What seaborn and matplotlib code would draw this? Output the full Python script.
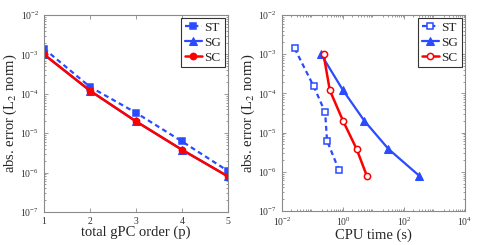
import numpy as np
import pandas as pd
import matplotlib
matplotlib.use("Agg")
import matplotlib.pyplot as plt
import seaborn as sns

# values
order = [1, 2, 3, 4, 5]
err_st = [1.4e-3, 1.5e-4, 3.3e-5, 6.2e-6, 1.1e-6]
err_sg = [1.0e-3, 1.2e-4, 2.0e-5, 3.8e-6, 8.0e-7]
err_sc = [1.0e-3, 1.2e-4, 2.0e-5, 3.8e-6, 8.0e-7]
cpu_st = [0.026, 0.11, 0.26, 0.30, 0.74]
cpu_sg = [0.19, 1.0, 5.0, 31.0, 310.0]
cpu_sc = [0.23, 0.37, 1.0, 2.8, 6.0]

blue = '#2a4bff'
red = '#ff0000'

sns.set_style("ticks")
plt.rcParams['font.family'] = ['Liberation Serif', 'DejaVu Serif']
plt.rcParams['mathtext.fontset'] = 'stix'
plt.rcParams['xtick.direction'] = 'in'
plt.rcParams['ytick.direction'] = 'in'
plt.rcParams['xtick.top'] = True
plt.rcParams['ytick.right'] = True

fig = plt.figure(figsize=(4.91, 2.45), dpi=100)
ax1 = fig.add_axes([0.0896, 0.1347, 0.3747, 0.804])
ax2 = fig.add_axes([0.5743, 0.139, 0.3727, 0.80])


def draw(ax, xs, hollow):
    x_st, x_sg, x_sc = xs
    sns.lineplot(x=x_st, y=err_st, ax=ax, sort=False, color=blue, lw=1.6,
                 linestyle=(0, (2.2, 1.6)), marker='s', markersize=4.5,
                 markeredgecolor=blue, mew=1.1,
                 markerfacecolor='white' if hollow else blue, label='ST')
    sns.lineplot(x=x_sg, y=err_sg, ax=ax, sort=False, color=blue, lw=1.6,
                 marker='^', markersize=5.5, markeredgecolor=blue,
                 markerfacecolor=blue, label='SG')
    sns.lineplot(x=x_sc, y=err_sc, ax=ax, sort=False, color=red, lw=1.8,
                 marker='o', markersize=4.5, markeredgecolor=red, mew=1.1,
                 markerfacecolor='white' if hollow else red, label='SC')
    ax.set_yscale('log')
    ax.set_ylim(1e-7, 1e-2)
    for s in ax.spines.values():
        s.set_color('#8a8a8a')
        s.set_linewidth(0.8)
    ax.tick_params(which='both', colors='#8a8a8a', labelcolor='#333333',
                   labelsize=7, width=0.6)
    ax.tick_params(which='major', length=3)
    ax.tick_params(which='minor', length=1.5)
    ax.set_ylabel('abs. error (L$_2$ norm)', fontsize=10.5, labelpad=1)
    leg = ax.legend(loc='upper right', fontsize=9.5, frameon=True,
                    fancybox=False, edgecolor='black', borderpad=0.25,
                    handlelength=1.3, handletextpad=0.2, labelspacing=0.2,
                    borderaxespad=0.25)
    leg.get_frame().set_linewidth(0.8)


draw(ax1, (order, order, order), False)
ax1.set_xlim(1, 5)
ax1.set_xticks(order)
ax1.set_xlabel('total gPC order (p)', fontsize=10.5, labelpad=0)

draw(ax2, (cpu_st, cpu_sg, cpu_sc), True)
ax2.set_xscale('log')
ax2.set_xlim(1e-2, 1e4)
ax2.set_xticks([1e-2, 1e0, 1e2, 1e4])
ax2.set_xlabel('CPU time (s)', fontsize=10.5, labelpad=0)

fig.savefig('out.png', dpi=100)
